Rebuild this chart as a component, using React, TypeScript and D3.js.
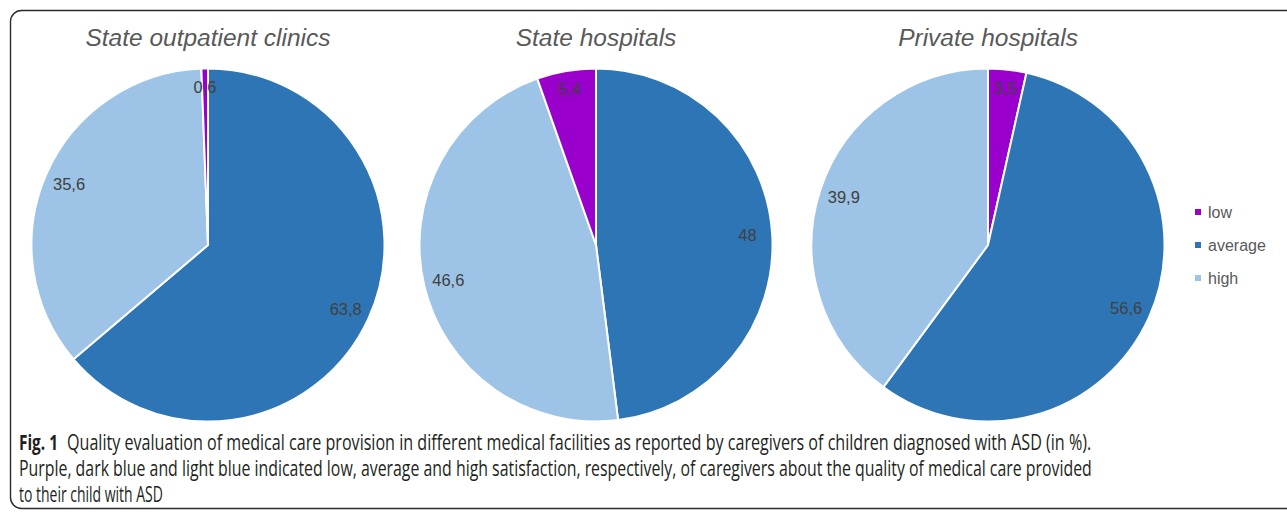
import React, { useLayoutEffect, useRef, useState } from "react";
import * as d3 from "d3";

const categories = ["low", "average", "high"];
const colors: Record<string, string> = { low: "#9A00CC", average: "#2E75B6", high: "#9DC3E6" };

const facilities = ["State outpatient clinics", "State hospitals", "Private hospitals"];
// values per facility in the clockwise order drawn from 12 o'clock
const clinicsOrder = ["average", "high", "low"];
const clinicsValues = [63.8, 35.6, 0.6];
const hospitalsOrder = ["average", "high", "low"];
const hospitalsValues = [48, 46.6, 5.4];
const privateOrder = ["low", "average", "high"];
const privateValues = [3.5, 56.6, 39.9];

const captionBold = "Fig. 1";
const captionLines = [
  "Quality evaluation of medical care provision in different medical facilities as reported by caregivers of children diagnosed with ASD (in %).",
  "Purple, dark blue and light blue indicated low, average and high satisfaction, respectively, of caregivers about the quality of medical care provided",
  "to their child with ASD",
];

const W = 1287;
const H = 516;
const SANS = "'Liberation Sans', Arial, sans-serif";

function Condensed({ x, y, width, bold, children }: { x: number; y: number; width: number; bold?: boolean; children: string }) {
  const ref = useRef<SVGTextElement>(null);
  const [k, setK] = useState(1);
  useLayoutEffect(() => {
    if (ref.current) {
      const w = ref.current.getComputedTextLength();
      if (w > 0) setK(width / w);
    }
  }, [width, children]);
  return (
    <text ref={ref} transform={`translate(${x},${y}) scale(${k},1)`} fontWeight={bold ? "bold" : "normal"}>
      {children}
    </text>
  );
}

export default function App() {
  const pies = [
    { order: clinicsOrder, values: clinicsValues },
    { order: hospitalsOrder, values: hospitalsValues },
    { order: privateOrder, values: privateValues },
  ];
  const cx = d3.scaleOrdinal<string, number>().domain(facilities).range([208, 596, 988]);
  const cy = 245;
  const r = 176.5;
  const arc = d3.arc<d3.PieArcDatum<number>>().innerRadius(0).outerRadius(r);
  const pieGen = d3.pie<number>().sort(null).startAngle(0).endAngle(2 * Math.PI);
  const fmt = (v: number) => String(v).replace(".", ",");

  return (
    <svg width={W} height={H} style={{ position: "absolute", left: 0, top: 0, background: "#fff" }}>
      <rect x={10.5} y={10.5} width={1300} height={498} rx={11} ry={11} fill="none" stroke="#2b2b2b" strokeWidth={1.4} />
      {facilities.map((f, i) => {
        const p = pies[i];
        const arcs = pieGen(p.values);
        const x0 = cx(f);
        return (
          <g key={f} transform={`translate(${x0},${cy})`}>
            <text x={0} y={-199} textAnchor="middle" fontFamily={SANS} fontStyle="italic" fontSize={24.5} fill="#595959">
              {f}
            </text>
            {arcs.map((a, j) => (
              <path key={j} d={arc(a) || ""} fill={colors[p.order[j]]} stroke="#fff" strokeWidth={2} strokeLinejoin="round" />
            ))}
            {arcs.map((a, j) => {
              const mid = (a.startAngle + a.endAngle) / 2;
              const lr = r * (a.value < 10 ? 0.895 : 0.86);
              return (
                <text key={"l" + j} x={lr * Math.sin(mid)} y={-lr * Math.cos(mid)} dy="0.35em" textAnchor="middle"
                  fontFamily={SANS} fontSize={16.5} fill="#404040">
                  {fmt(a.value)}
                </text>
              );
            })}
          </g>
        );
      })}
      {categories.map((c, i) => (
        <g key={c} transform={`translate(1195,${212 + i * 33})`}>
          <rect x={0} y={-3} width={6} height={6} fill={colors[c]} />
          <text x={13} y={0} dy="0.35em" fontFamily={SANS} fontSize={16} fill="#595959">{c}</text>
        </g>
      ))}
      <g fontFamily="'Liberation Sans Narrow', 'Open Sans', sans-serif" fontSize={21} fill="#231f20">
        <Condensed x={19} y={450} width={39} bold>{captionBold}</Condensed>
        <Condensed x={67} y={450} width={1025}>{captionLines[0]}</Condensed>
        <Condensed x={19} y={476} width={1073}>{captionLines[1]}</Condensed>
        <Condensed x={19} y={502} width={144}>{captionLines[2]}</Condensed>
      </g>
    </svg>
  );
}
